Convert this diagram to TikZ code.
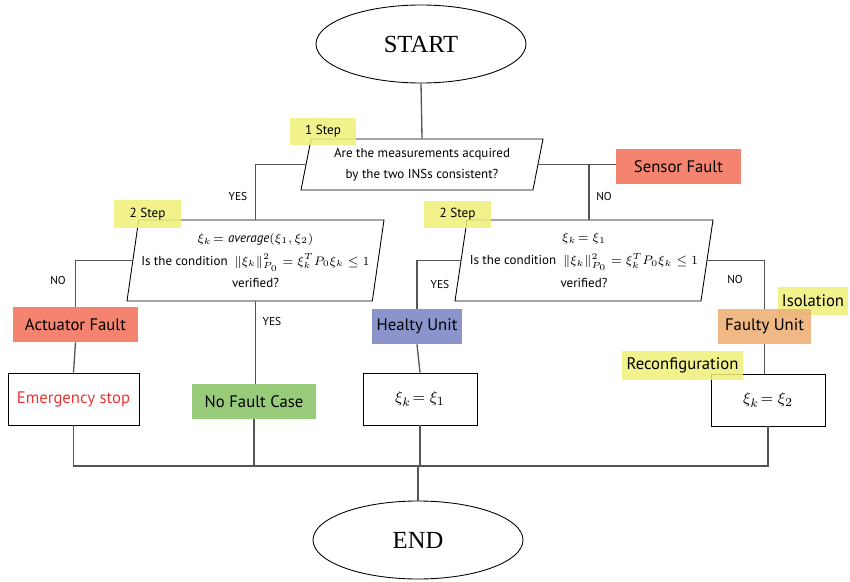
\documentclass[tikz,border=0pt]{standalone}
\usepackage{fontspec}
\setmainfont{PT Sans}
\newfontfamily\startfont{Liberation Serif}
\usepackage{tikz}
\usetikzlibrary{shapes.geometric}

\definecolor{salmon}{RGB}{244,131,111}
\definecolor{leaf}{RGB}{152,204,122}
\definecolor{lavender}{RGB}{139,149,204}
\definecolor{apricot}{RGB}{237,176,120}
\definecolor{lemon}{RGB}{238,240,120}
\definecolor{alarm}{RGB}{236,52,52}
\definecolor{wire}{RGB}{85,85,85}

\begin{document}
\begin{tikzpicture}[x=0.2mm, y=-0.2mm,
    terminal/.style={draw, ellipse, line width=0.5pt, minimum width=42mm, minimum height=15.6mm, font=\startfont\fontsize{14}{16}\selectfont},
    question/.style={draw, trapezium, trapezium stretches body=true, line width=0.5pt, fill=white, align=center, inner sep=0pt, font=\fontsize{7.4}{12}\selectfont},
    status/.style={minimum height=7mm, inner sep=0pt, font=\fontsize{9.5}{12}\selectfont},
    action/.style={draw, line width=0.5pt, minimum width=22.8mm, minimum height=10.4mm, inner sep=0pt, font=\fontsize{9.5}{12}\selectfont},
    stepnote/.style={fill=lemon, fill opacity=0.85, text opacity=1, inner sep=0pt, font=\fontsize{7.5}{8}\selectfont},
    phase/.style={fill=lemon, fill opacity=0.85, text opacity=1, inner sep=0pt, font=\fontsize{9.5}{12}\selectfont},
    answer/.style={font=\fontsize{6.5}{8}\selectfont},
    link/.style={draw=wire, line width=0.75pt}]
    \useasboundingbox (0,0) rectangle (850,581);

    \node [terminal] (start) at (421,44) {START};
    \node [terminal] (end) at (418,540) {END};

    \node [question, trapezium left angle=73, trapezium right angle=107, minimum width=48.4mm, minimum height=10.2mm] (check) at (422,164.5) {Are the measurements acquired\\by the two INSs consistent?};
    \node [question, trapezium left angle=78, trapezium right angle=102, minimum width=51.4mm, minimum height=16.2mm, font=\fontsize{7.4}{13}\selectfont] (avgcheck) at (255.5,260.5) {$\xi_k\!=\mathit{average}(\xi_1,\xi_2)$\\Is the condition \ $\|\xi_k\|^2_{P_0}=\xi_k^T P_0\xi_k\leq 1$\\verified?};
    \node [question, trapezium left angle=77.5, trapezium right angle=102.5, minimum width=51.6mm, minimum height=16.2mm, font=\fontsize{7.4}{13}\selectfont] (onecheck) at (584,260.5) {$\xi_k\!=\xi_1$\\Is the condition \ $\|\xi_k\|^2_{P_0}=\xi_k^T P_0\xi_k\leq 1$\\verified?};

    \node [status, fill=salmon, minimum width=25mm] (sensor) at (678.5,166.5) {Sensor Fault};
    \node [status, fill=salmon, minimum width=25mm] (actuator) at (75.5,324.5) {Actuator Fault};
    \node [status, fill=leaf, minimum width=24.8mm] (nofault) at (254,401.5) {No Fault Case};
    \node [status, fill=lavender, minimum width=18mm] (healty) at (417,326.5) {Healty Unit};
    \node [phase, minimum width=14mm, minimum height=5.6mm] (isolation) at (813,301) {Isolation};
    \node [status, fill=apricot, fill opacity=0.9, text opacity=1, minimum width=18.6mm] (faulty) at (764.5,326.5) {Faulty Unit};

    \node [action, minimum width=26.2mm, text=alarm] (emergency) at (73.5,399) {Emergency stop};
    \node [action] (keepone) at (420,399) {$\xi_k\!=\xi_1$};
    \node [action] (keeptwo) at (768,400) {$\xi_k\!=\xi_2$};

    \node [phase, minimum width=24.2mm, minimum height=5.8mm] (reconf) at (682.5,365.5) {Reconfiguration};
    \node [stepnote, minimum width=13.2mm, minimum height=5.4mm] (stepone) at (323,131.5) {1 Step};
    \node [stepnote, minimum width=13.4mm, minimum height=5.6mm] (steptwoa) at (147.5,214) {2 Step};
    \node [stepnote, minimum width=13.4mm, minimum height=5.4mm] (steptwob) at (457.5,214.5) {2 Step};

    \node [answer] (yesa) at (238,197) {YES};
    \node [answer] (noa) at (604,197) {NO};
    \node [answer] (nob) at (58,280) {NO};
    \node [answer] (yesb) at (272,321) {YES};
    \node [answer] (yesc) at (440,284) {YES};
    \node [answer] (noc) at (735,279) {NO};

    \coordinate (merge) at (418,466);

    \draw [link] (start.south) -- (check.north);
    \draw [link] (check.west) -| (avgcheck.north);
    \draw [link] (check.east) -- (check.east -| sensor.west);
    \draw [link] (check.east -| 589,0) -- (onecheck.north -| 589,0);
    \draw [link] (avgcheck.west) -| (actuator.north);
    \draw [link] (avgcheck.south) -- (avgcheck.south |- nofault.north);
    \draw [link] (onecheck.west) -| (healty.north);
    \draw [link] (onecheck.east) -| (faulty.north);
    \draw [link] (actuator.south) -- (emergency.north);
    \draw [link] (healty.south) -- (keepone.north);
    \draw [link] (faulty.south) -- (faulty.south |- keeptwo.north);
    \draw [link] (emergency.south) |- (merge) -| (keeptwo.south);
    \draw [link] (nofault.south) -- (nofault.south |- merge);
    \draw [link] (keepone.south) -- (keepone.south |- merge);
    \draw [link] (merge) -- (end.north);
\end{tikzpicture}
\end{document}
